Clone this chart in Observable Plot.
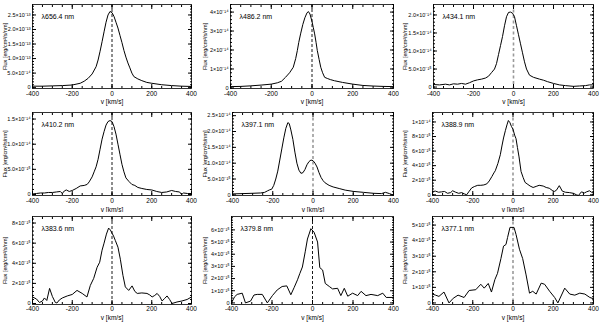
<!DOCTYPE html>
<html><head><meta charset="utf-8">
<script src="https://cdn.jsdelivr.net/npm/d3@7"></script>
<script src="https://cdn.jsdelivr.net/npm/@observablehq/plot@0.6"></script>
<style>
body{margin:0;background:#fff;}
#wrap{position:relative;width:600px;height:322px;overflow:hidden;background:#fff;font-family:"Liberation Sans",Arial,sans-serif;}
#wrap .p{position:absolute;}
</style></head>
<body><div id="wrap"></div>
<script>
// ---- data ----
const lineNames = ["λ656.4 nm","λ486.2 nm","λ434.1 nm","λ410.2 nm","λ397.1 nm","λ388.9 nm","λ383.6 nm","λ379.8 nm","λ377.1 nm"];
const xTicks = [-400,-200,0,200,400];
const xTickLabels = ["-400","-200","0","200","400"];
const xTitle = "v [km/s]";
const yTitle = "Flux [erg/cm²/s/nm]";

const v1 = [-400,-350,-300,-250,-200,-160,-140,-120,-100,-80,-70,-60,-50,-40,-30,-20,-10,0,10,20,30,40,50,60,70,80,90,100,110,130,150,175,200,250,300,350,400];
const f1 = [0.05,0.05,0.06,0.07,0.09,0.15,0.22,0.32,0.47,0.72,0.95,1.25,1.58,1.92,2.25,2.5,2.62,2.58,2.45,2.25,2.05,1.8,1.55,1.28,1.05,0.85,0.68,0.5,0.38,0.3,0.24,0.18,0.15,0.1,0.07,0.05,0.04];
const yTicks1 = [0,0.5,1,1.5,2,2.5];
const yLabels1 = ["0","5.0×10⁻¹⁴","1.0×10⁻¹³","1.5×10⁻¹³","2.0×10⁻¹³","2.5×10⁻¹³"];

const v2 = [-400,-350,-300,-250,-200,-170,-150,-130,-110,-92,-80,-72,-65,-56,-45,-35,-25,-18,-10,0,6,13,20,26,35,43,52,62,75,90,110,150,200,250,300,350,400];
const f2 = [0.07,0.08,0.11,0.15,0.2,0.27,0.35,0.56,0.8,1.09,1.55,1.97,2.4,2.85,3.35,3.7,3.95,4.03,3.9,3.5,3.2,2.85,2.4,1.97,1.5,1.09,0.8,0.56,0.5,0.44,0.38,0.29,0.2,0.13,0.1,0.08,0.07];
const yTicks2 = [0,1,2,3,4];
const yLabels2 = ["0","1×10⁻¹⁴","2×10⁻¹⁴","3×10⁻¹⁴","4×10⁻¹⁴"];

const v3 = [-400,-370,-340,-320,-300,-280,-260,-240,-220,-200,-180,-160,-140,-125,-110,-95,-85,-75,-65,-55,-45,-35,-25,-15,-5,5,15,25,35,45,55,65,80,100,130,150,170,200,230,260,300,330,360,380,400];
const f3 = [0.07,0.06,0.08,0.06,0.09,0.08,0.1,0.08,0.12,0.17,0.2,0.22,0.25,0.3,0.4,0.5,0.65,0.9,1.15,1.4,1.7,1.95,2.07,2.08,2.05,1.95,1.7,1.45,1.2,0.95,0.7,0.5,0.33,0.27,0.22,0.19,0.15,0.1,0.06,0.04,0.02,0.03,0.04,0.06,0.06];
const yTicks3 = [0,0.5,1,1.5,2];
const yLabels3 = ["0","5.0×10⁻¹⁵","1.0×10⁻¹⁴","1.5×10⁻¹⁴","2.0×10⁻¹⁴"];

const v4 = [-400,-380,-360,-340,-320,-300,-280,-260,-250,-240,-230,-215,-200,-180,-160,-140,-125,-115,-100,-90,-80,-70,-60,-50,-40,-30,-20,-10,0,10,20,30,40,50,60,70,85,100,115,130,150,175,200,225,250,275,300,320,340,350,360,380,400];
const f4 = [0.01,0.02,0.03,0.03,0.04,0.04,0.05,0.06,0.02,0.07,0.09,0.06,0.08,0.12,0.17,0.18,0.2,0.25,0.35,0.45,0.55,0.7,0.9,1.1,1.25,1.38,1.45,1.47,1.45,1.35,1.2,1.0,0.8,0.6,0.45,0.33,0.26,0.2,0.18,0.14,0.12,0.1,0.09,0.06,0.04,0.05,0.08,0.06,0.05,0.0,0.03,0.02,0.02];
const yTicks4 = [0,0.5,1,1.5];
const yLabels4 = ["0","5.0×10⁻¹⁵","1.0×10⁻¹⁴","1.5×10⁻¹⁴"];

const v5 = [-400,-350,-300,-260,-240,-225,-215,-205,-195,-185,-175,-165,-155,-145,-135,-125,-118,-110,-100,-90,-80,-70,-60,-50,-40,-30,-20,-10,0,10,20,30,40,50,60,80,100,130,160,200,250,300,340,360,380,400];
const f5 = [0.03,0.04,0.05,0.06,0.08,0.13,0.16,0.18,0.3,0.5,0.75,1.1,1.45,1.8,2.1,2.28,2.25,2.05,1.75,1.35,1.0,0.78,0.68,0.7,0.8,0.95,1.05,1.1,1.08,1.0,0.88,0.7,0.55,0.45,0.38,0.3,0.25,0.2,0.15,0.11,0.08,0.05,0.04,0.08,0.04,-0.01];
const yTicks5 = [0,0.5,1,1.5,2,2.5];
const yLabels5 = ["0","5.0×10⁻¹⁵","1.0×10⁻¹⁴","1.5×10⁻¹⁴","2.0×10⁻¹⁴","2.5×10⁻¹⁴"];

const v6 = [-400,-385,-370,-355,-340,-325,-310,-300,-285,-270,-255,-240,-230,-220,-205,-190,-175,-160,-145,-130,-118,-105,-95,-88,-75,-63,-55,-47,-38,-30,-23,-15,-8,0,8,15,22,30,40,50,60,70,85,100,115,130,150,165,180,195,205,215,230,245,260,280,300,315,325,340,355,365,380,390,400];
const f6 = [0.45,0.5,0.35,0.4,0.45,0.2,0.3,0.55,0.35,0.2,0.3,0.1,0.0,0.4,0.95,1.15,1.3,1.3,1.35,1.5,1.9,2.5,3.0,3.3,4.3,5.5,6.7,7.8,8.8,9.6,10.2,9.9,9.4,9.0,8.2,7.7,6.5,5.2,3.2,2.4,1.7,1.5,1.2,1.0,1.15,1.3,1.2,1.0,0.9,0.6,0.45,0.6,1.25,0.5,0.35,0.3,0.2,0.0,-0.1,0.4,0.25,0.4,0.55,0.35,0.2];
const yTicks6 = [0,2,4,6,8,10];
const yLabels6 = ["0","2×10⁻¹⁵","4×10⁻¹⁵","6×10⁻¹⁵","8×10⁻¹⁵","1×10⁻¹⁴"];

const v7 = [-400,-380,-365,-350,-340,-328,-314,-300,-285,-277,-265,-250,-225,-200,-176,-150,-126,-109,-92,-75,-62,-50,-40,-28,-17,-8,0,8,17,30,42,55,67,84,101,115,127,150,176,190,202,215,227,240,252,265,277,290,302,327,352,378,400];
const f7 = [0.65,0.45,0.1,0.25,0.55,0.3,1.5,0.7,0.1,0.05,0.35,0.55,0.75,0.9,1.3,1.0,0.65,1.8,2.5,3.6,4.1,5.3,6.0,6.9,7.5,7.3,7.0,6.7,6.25,5.6,4.4,2.8,1.65,1.3,1.75,1.2,1.0,1.05,1.0,0.85,0.65,0.8,1.0,0.7,0.25,0.5,0.75,0.4,0.0,0.15,0.25,0.4,0.65];
const yTicks7 = [0,2,4,6,8];
const yLabels7 = ["0","2×10⁻¹⁵","4×10⁻¹⁵","6×10⁻¹⁵","8×10⁻¹⁵"];

const v8 = [-400,-385,-372,-347,-331,-306,-289,-273,-248,-223,-198,-174,-150,-127,-107,-91,-74,-63,-50,-36,-25,-8,8,25,36,50,63,83,99,124,140,157,174,198,223,240,264,289,322,347,364,400];
const f8 = [0.0,0.5,0.7,0.8,0.0,0.15,0.65,0.7,0.7,0.0,0.6,1.07,1.35,1.4,0.67,1.25,1.9,2.4,2.95,4.2,5.25,6.1,5.8,5.0,2.9,2.7,1.6,1.35,1.15,1.2,0.6,1.2,0.55,0.8,0.6,0.95,0.6,0.7,0.6,0.8,0.45,0.45];
const yTicks8 = [0,1,2,3,4,5,6];
const yLabels8 = ["0","1×10⁻¹⁵","2×10⁻¹⁵","3×10⁻¹⁵","4×10⁻¹⁵","5×10⁻¹⁵","6×10⁻¹⁵"];

const v9 = [-400,-385,-368,-343,-318,-297,-273,-243,-218,-185,-160,-143,-123,-107,-90,-77,-60,-47,-35,-27,-15,-5,5,15,32,48,65,82,98,115,140,157,182,207,223,257,282,307,332,357,382,400];
const f9 = [0.57,0.5,0.42,0.7,0.0,0.3,0.5,0.35,0.8,0.85,1.2,0.95,1.25,0.7,1.5,1.9,2.85,3.65,3.75,4.2,4.85,4.85,4.85,4.4,3.45,2.85,1.8,0.63,0.75,0.57,1.27,1.2,0.75,0.35,0.0,0.95,0.57,0.5,0.63,0.57,0.35,0.27];
const yTicks9 = [0,1,2,3,4,5];
const yLabels9 = ["0","1×10⁻¹⁵","2×10⁻¹⁵","3×10⁻¹⁵","4×10⁻¹⁵","5×10⁻¹⁵"];

const yDomains = [[-0.03,2.86],[-0.03,4.4],[-0.04,2.29],[-0.02,1.63],[-0.02,2.6],[-0.1,11.3],[-0.1,8.65],[-0.13,7.1],[-0.1,5.55]];
const yMinorSteps = [0.1,0.2,0.1,0.1,0.1,0.4,0.4,0.2,0.2];
const greyZero = [false,false,true,false,true,true,false,false,true];

// ---- layout ----
const rowTop = [0,108,212], rowH = [107,107,110], rowMB = [19,20,18];
const rowPad = [3,3,2], rowTitleDy = [15,16,15];
const colLeft = [0,200,400];
const mLeft = [[32,30,33],[32,32,32],[32,31,32]];
const mRight = [9,7,7];

const vs=[v1,v2,v3,v4,v5,v6,v7,v8,v9], fs=[f1,f2,f3,f4,f5,f6,f7,f8,f9];
const yts=[yTicks1,yTicks2,yTicks3,yTicks4,yTicks5,yTicks6,yTicks7,yTicks8,yTicks9];
const yls=[yLabels1,yLabels2,yLabels3,yLabels4,yLabels5,yLabels6,yLabels7,yLabels8,yLabels9];

const wrap = document.getElementById("wrap");
const xMinor = d3.range(-400, 401, 50);
const fontFamily = '"Liberation Sans", Arial, sans-serif';

for (let i = 0; i < 9; i++) {
  const r = Math.floor(i/3), c = i%3;
  const data = vs[i].map((v,k)=>({v, f: fs[i][k]}));
  const dom = yDomains[i];
  const st = yMinorSteps[i];
  const yMinor = d3.range(0, Math.round(dom[1]/st)+1).map(k=>+(k*st).toFixed(3)).filter(d=>d<=dom[1]);
  const yT = yts[i], yL = yls[i];
  const zeroStyle = greyZero[i] ? {stroke:"#9a9a9a", strokeWidth:1.6, strokeDasharray:"3,2.5"} : {stroke:"#000", strokeWidth:0.9, strokeDasharray:"3,2"};
  const ml = mLeft[r][c];
  const p = Plot.plot({
    width: 200, height: rowH[r],
    marginLeft: ml, marginRight: mRight[c], marginTop: 4, marginBottom: rowMB[r],
    style: {fontFamily, fontSize: "6px", background: "#fff", overflow: "visible"},
    x: {domain: [-400,400]},
    y: {domain: dom},
    marks: [
      Plot.ruleX([0], {...zeroStyle}),
      Plot.line(data, {x:"v", y:"f", stroke:"#000", strokeWidth:1}),
      Plot.frame({stroke:"#000", strokeWidth:0.8}),
      Plot.axisX({anchor:"bottom", ticks:xMinor, tickSize:-2, tickFormat:()=>"", label:null}),
      Plot.axisX({anchor:"top", ticks:xMinor, tickSize:-2, tickFormat:()=>"", label:null}),
      Plot.axisX({anchor:"bottom", ticks:xTicks, tickSize:-4, tickFormat:()=>"", label:null}),
      Plot.axisX({anchor:"top", ticks:xTicks, tickSize:-4, tickFormat:()=>"", label:null}),
      Plot.axisX({anchor:"bottom", ticks:xTicks, tickSize:0, tickPadding:rowPad[r], tickFormat:d=>xTickLabels[xTicks.indexOf(d)], label:null, fontSize:6.5}),
      Plot.axisY({anchor:"left", ticks:yMinor, tickSize:-2, tickFormat:()=>"", label:null}),
      Plot.axisY({anchor:"right", ticks:yMinor, tickSize:-2, tickFormat:()=>"", label:null}),
      Plot.axisY({anchor:"left", ticks:yT, tickSize:-4, tickFormat:()=>"", label:null}),
      Plot.axisY({anchor:"right", ticks:yT, tickSize:-4, tickFormat:()=>"", label:null}),
      Plot.axisY({anchor:"left", ticks:yT, tickSize:0, tickPadding:2, tickFormat:d=>yL[yT.indexOf(d)], label:null, fontSize:5.5}),
      Plot.text([xTitle], {frameAnchor:"bottom", dy: rowTitleDy[r], fontSize:6.5}),
      Plot.text([yTitle], {frameAnchor:"left", rotate:-90, textAnchor:"middle", dx: -(ml-5), fontSize:5.5}),
      Plot.text([lineNames[i]], {frameAnchor:"top-left", dx:9, dy:10, fontSize:7, textAnchor:"start"})
    ]
  });
  p.classList.add("p");
  p.style.left = colLeft[c] + "px";
  p.style.top = rowTop[r] + "px";
  wrap.appendChild(p);
}
</script></body></html>
